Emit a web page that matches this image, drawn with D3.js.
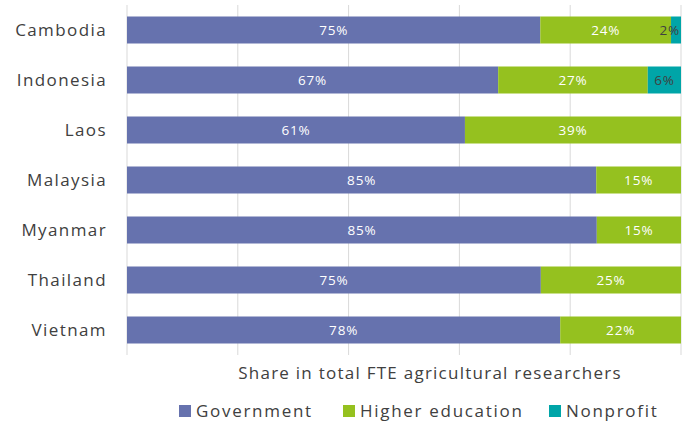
<!DOCTYPE html>
<meta charset="utf-8">
<style>
body { margin:0; background:white; font-family:"Open Sans", sans-serif; }
</style>
<script src="https://d3js.org/d3.v7.min.js"></script>
<div id="chart"></div>
<script>

// data
var countries = ["Cambodia", "Indonesia", "Laos", "Malaysia", "Myanmar", "Thailand", "Vietnam"];
var government = [74.6, 67, 61, 84.7, 84.8, 74.7, 78.2];
var higherEd   = [23.6, 27, 39, 15.3, 15.2, 25.3, 21.8];
var nonprofit  = [1.8, 6, 0, 0, 0, 0, 0];
var seriesNames = ["Government", "Higher education", "Nonprofit"];
var xTicks = [0, 20, 40, 60, 80, 100];

var W = 682, H = 424;
var margin = {top: 5, right: 1, bottom: 69, left: 127};
var width = W - margin.left - margin.right,
    height = H - margin.top - margin.bottom;

var colors = ["#6672ae", "#95c11f", "#00a5a8"];
var labelColors = ["#ffffff", "#ffffff", "#404040"];

var rows = countries.map(function(c, i) {
  return {country: c, Government: government[i], "Higher education": higherEd[i], Nonprofit: nonprofit[i]};
});
var stacked = d3.stack().keys(seriesNames)(rows);

var svg = d3.select("#chart").append("svg")
    .attr("width", W)
    .attr("height", H)
  .append("g")
    .attr("transform", "translate(" + margin.left + "," + margin.top + ")");

var x = d3.scaleLinear().domain([0, 100]).range([0, width]);
var y = d3.scaleBand().domain(countries).range([0, height]).paddingInner(0.46).paddingOuter(0.23);

// gridlines
svg.append("g")
  .selectAll("line")
  .data(xTicks)
  .join("line")
    .attr("x1", function(d) { return x(d); })
    .attr("x2", function(d) { return x(d); })
    .attr("y1", 0)
    .attr("y2", height)
    .attr("stroke", "#d9d9d9")
    .attr("stroke-width", 1);

// bars
var layers = svg.selectAll(".layer")
  .data(stacked)
  .join("g")
    .attr("class", "layer")
    .attr("fill", function(d, i) { return colors[i]; });

layers.selectAll("rect")
  .data(function(d) { return d; })
  .join("rect")
    .attr("x", function(d) { return x(d[0]); })
    .attr("y", function(d) { return y(d.data.country); })
    .attr("width", function(d) { return x(d[1]) - x(d[0]); })
    .attr("height", y.bandwidth());

// value labels (a label too wide for its slice is pinned to the right edge)
layers.each(function(s, si) {
  d3.select(this).selectAll("text")
    .data(s.filter(function(d) { return d[1] - d[0] > 0; }))
    .join("text")
      .attr("x", function(d) {
        var mid = (x(d[0]) + x(d[1])) / 2;
        return mid + 14 > width ? width - 1 : mid;
      })
      .attr("y", function(d) { return y(d.data.country) + y.bandwidth() / 2; })
      .attr("dy", "0.35em")
      .attr("text-anchor", function(d) {
        var mid = (x(d[0]) + x(d[1])) / 2;
        return mid + 14 > width ? "end" : "middle";
      })
      .attr("fill", labelColors[si])
      .style("font-size", "13.5px")
      .style("letter-spacing", "0.8px")
      .text(function(d) { return Math.round(d[1] - d[0]) + "%"; });
});

// country labels
svg.append("g")
  .selectAll("text")
  .data(countries)
  .join("text")
    .attr("x", -20)
    .attr("y", function(d) { return y(d) + y.bandwidth() / 2; })
    .attr("dy", "0.35em")
    .attr("text-anchor", "end")
    .attr("fill", "#404040")
    .style("font-size", "17px")
    .style("letter-spacing", "1.4px")
    .text(function(d) { return d; });

// axis title
svg.append("text")
  .attr("x", 303)
  .attr("y", height + 24)
  .attr("text-anchor", "middle")
  .attr("fill", "#404040")
  .style("font-size", "17px")
  .style("letter-spacing", "1.25px")
  .text("Share in total FTE agricultural researchers");

// legend
var legendX = [52, 216, 422];
var legend = svg.append("g")
  .selectAll("g")
  .data(seriesNames)
  .join("g")
    .attr("transform", function(d, i) { return "translate(" + legendX[i] + "," + (height + 62) + ")"; });
legend.append("rect")
  .attr("x", 0).attr("y", -12)
  .attr("width", 12).attr("height", 12)
  .attr("fill", function(d, i) { return colors[i]; });
legend.append("text")
  .attr("x", 17)
  .attr("y", 0)
  .attr("fill", "#404040")
  .style("font-size", "17px")
  .style("letter-spacing", "1.7px")
  .text(function(d) { return d; });

</script>
